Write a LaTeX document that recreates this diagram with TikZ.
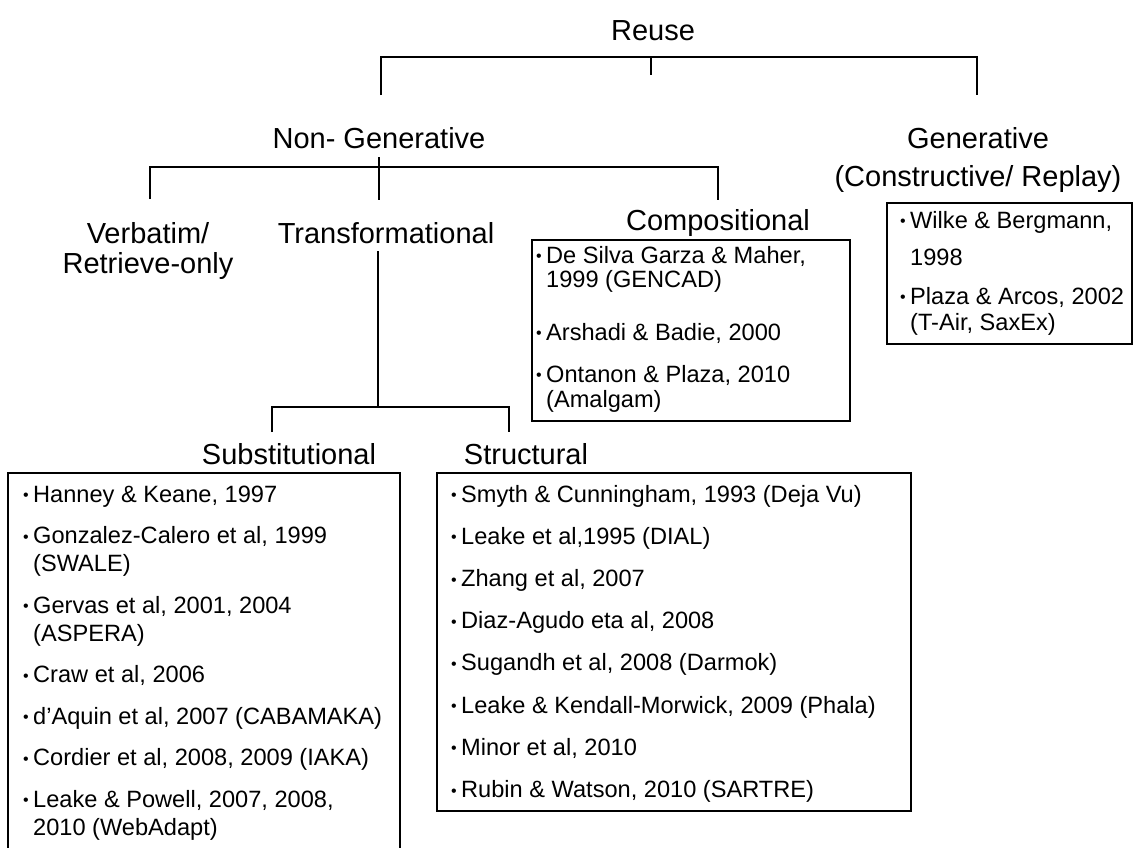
\documentclass[tikz,border=0pt]{standalone}
\usepackage{fontspec}
\setmainfont{Liberation Sans}
\newcommand\lblsize{\fontsize{29}{33}\selectfont}
\newcommand\itmsize{\fontsize{23.6}{28}\selectfont}
% small bullet hanging to the left of the item text
\newcommand\bul{\llap{\raisebox{1.3pt}{\fontsize{16}{16}\selectfont\textbullet}\hspace{4.5pt}}}
\begin{document}
\begin{tikzpicture}[x=1pt, y=-1pt,
  lbl/.style={font=\lblsize, inner sep=0pt, anchor=base},
  itm/.style={font=\itmsize, inner sep=0pt, anchor=base west},
  frame/.style={draw, line width=2.2pt, outer sep=0pt, inner sep=0pt, anchor=north west},
  conn/.style={line width=2.2pt}]
\useasboundingbox (0,0) rectangle (1134,847);
\clip (0,0) rectangle (1134,847);

% category labels
\node[lbl] (reuse) at (653,40) {Reuse};
\node[lbl] (nongen) at (379,148) {Non- Generative};
\node[lbl] (gen) at (978,148) {Generative};
\node[lbl] (gensub) at (978,186) {(Constructive/ Replay)};
\node[lbl] (verb) at (148,243) {Verbatim/};
\node[lbl] (verbsub) at (148,273) {Retrieve-only};
\node[lbl] (trans) at (386,243) {Transformational};
\node[lbl] (comp) at (718,230) {Compositional};
\node[lbl] (subst) at (289,464) {Substitutional};
\node[lbl] (struct) at (526,464) {Structural};

% frames around the reference lists
\node[frame, minimum width=318pt, minimum height=181pt] (compbox) at (532,240) {};
\node[frame, minimum width=245pt, minimum height=141pt] (genbox) at (887,203) {};
\node[frame, minimum width=474pt, minimum height=338pt] (structbox) at (437,473) {};
\node[frame, minimum width=392pt, minimum height=420pt] (substbox) at (8,473) {};

% tree connectors
\coordinate (topbar) at (651,57);
\coordinate (topTick) at (651,75);
\coordinate (ngUp) at (381,95);
\coordinate (gUp) at (977,95);
\draw[conn] (ngUp) |- (topbar) -| (gUp);
\draw[conn] (topbar) -- (topTick);

\coordinate (midbar) at (379,167);
\coordinate (midTickTop) at (379,157);
\coordinate (vUp) at (150,199);
\coordinate (cUp) at (718,200);
\coordinate (tUp) at (379,200);
\draw[conn] (vUp) |- (midbar) -| (cUp);
\draw[conn] (midTickTop) -- (tUp);

\coordinate (tDown) at (378,251);
\coordinate (lowbar) at (378,407);
\coordinate (sUp) at (272,432);
\coordinate (stUp) at (509,432);
\draw[conn] (tDown) -- (lowbar);
\draw[conn] (sUp) |- (lowbar) -| (stUp);

% compositional references
\node[itm] (c1) at (546,263) {\bul De Silva Garza \& Maher,};
\node[itm] (c1b) at (546,287) {1999 (GENCAD)};
\node[itm] (c2) at (546,340) {\bul Arshadi \& Badie, 2000};
\node[itm] (c3) at (546,382) {\bul Ontanon \& Plaza, 2010};
\node[itm] (c3b) at (546,407) {(Amalgam)};

% generative references
\node[itm] (g1) at (910,228) {\bul Wilke \& Bergmann,};
\node[itm] (g1b) at (910,265) {1998};
\node[itm] (g2) at (910,304) {\bul Plaza \& Arcos, 2002};
\node[itm] (g2b) at (910,330) {(T-Air, SaxEx)};

% substitutional references
\node[itm] (s1) at (33,502) {\bul Hanney \& Keane, 1997};
\node[itm] (s2) at (33,543.5) {\bul Gonzalez-Calero et al, 1999};
\node[itm] (s2b) at (33,571.5) {(SWALE)};
\node[itm] (s3) at (33,613) {\bul Gervas et al, 2001, 2004};
\node[itm] (s3b) at (33,641) {(ASPERA)};
\node[itm] (s4) at (33,682.5) {\bul Craw et al, 2006};
\node[itm] (s5) at (33,724) {\bul d’Aquin et al, 2007 (CABAMAKA)};
\node[itm] (s6) at (33,765.5) {\bul Cordier et al, 2008, 2009 (IAKA)};
\node[itm] (s7) at (33,807) {\bul Leake \& Powell, 2007, 2008,};
\node[itm] (s7b) at (33,835) {2010 (WebAdapt)};

% structural references
\node[itm] (t1) at (461,502) {\bul Smyth \& Cunningham, 1993 (Deja Vu)};
\node[itm] (t2) at (461,544.2) {\bul Leake et al,1995 (DIAL)};
\node[itm] (t3) at (461,586.4) {\bul Zhang et al, 2007};
\node[itm] (t4) at (461,628.6) {\bul Diaz-Agudo eta al, 2008};
\node[itm] (t5) at (461,670.8) {\bul Sugandh et al, 2008 (Darmok)};
\node[itm] (t6) at (461,713) {\bul Leake \& Kendall-Morwick, 2009 (Phala)};
\node[itm] (t7) at (461,755.2) {\bul Minor et al, 2010};
\node[itm] (t8) at (461,797.4) {\bul Rubin \& Watson, 2010 (SARTRE)};
\end{tikzpicture}
\end{document}
